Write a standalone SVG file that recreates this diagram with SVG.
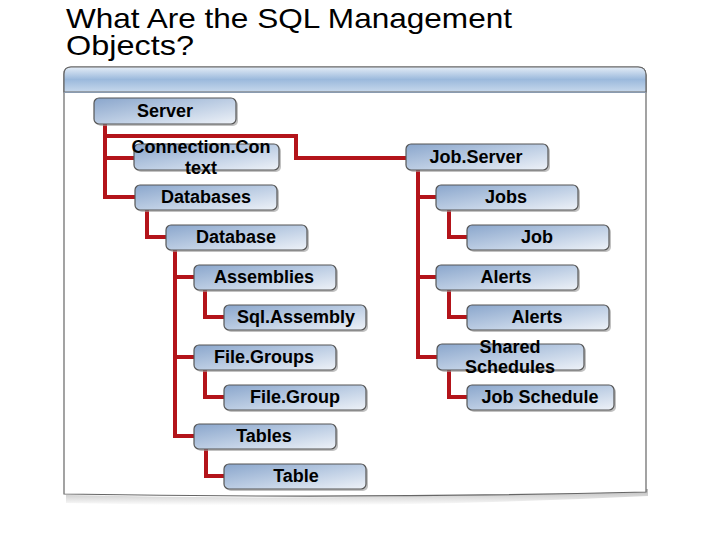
<svg xmlns="http://www.w3.org/2000/svg" width="720" height="540" viewBox="0 0 720 540">
<defs>
<linearGradient id="nodeGrad" x1="0" y1="0" x2="1" y2="1">
<stop offset="0" stop-color="#8aa6cc"/>
<stop offset="0.55" stop-color="#c0d0e5"/>
<stop offset="1" stop-color="#eef2f8"/>
</linearGradient>
<linearGradient id="headGrad" x1="0" y1="0" x2="0" y2="1">
<stop offset="0" stop-color="#e4edf7"/>
<stop offset="0.5" stop-color="#9bb9dc"/>
<stop offset="1" stop-color="#c7d8ec"/>
</linearGradient>
<linearGradient id="shadowGrad" x1="0" y1="0" x2="0" y2="1">
<stop offset="0" stop-color="#888" stop-opacity="0.6"/>
<stop offset="1" stop-color="#888" stop-opacity="0"/>
</linearGradient>
</defs>
<style>
.title{font-family:"Liberation Sans",Arial,sans-serif;font-size:28px;fill:#000}
.node rect.b{fill:url(#nodeGrad);stroke:#555;stroke-width:1.2}
.node rect.s{fill:#9a9a9a;opacity:0.6}
.node text{font-family:"Liberation Sans",Arial,sans-serif;font-size:18px;font-weight:bold;fill:#000;text-anchor:middle}
.conn path{fill:none;stroke:#b3141a;stroke-width:4;stroke-linejoin:miter}
</style>
<rect width="720" height="540" fill="#fff"/>
<text class="title" x="66" y="28" textLength="446" lengthAdjust="spacingAndGlyphs">What Are the SQL Management</text>
<text class="title" x="66" y="55" textLength="128" lengthAdjust="spacingAndGlyphs">Objects?</text>

<g id="panel">
<path d="M66 495 Q360 502 648 489 L648 496 Q360 510 66 503 Z" fill="url(#shadowGrad)"/>
<path d="M64 92 V74 Q64 67 71 67 H638 Q646 67 646 75 V492 Q360 499 64 494 Z" fill="#fff" stroke="#666" stroke-width="1.2"/>
<path d="M64 92 V74 Q64 67 71 67 H638 Q646 67 646 75 V92 Z" fill="url(#headGrad)" stroke="#666" stroke-width="1.2"/>
<line x1="64" y1="92.5" x2="646" y2="92.5" stroke="#8a9bb0" stroke-width="1"/>
</g>

<g class="conn" id="connectors">
<path d="M105 124 V197 H135"/>
<path d="M105 158 H134"/>
<path d="M105 136 H296 V158 H406"/>
<path d="M147 210 V237 H166"/>
<path d="M175 250 V436 H194"/>
<path d="M175 277 H194"/>
<path d="M175 357 H194"/>
<path d="M205 290 V317 H224"/>
<path d="M205 370 V397 H224"/>
<path d="M206 449 V476 H224"/>
<path d="M418 170 V357 H437"/>
<path d="M418 197 H436"/>
<path d="M418 277 H436"/>
<path d="M449 210 V237 H467"/>
<path d="M449 290 V317 H467"/>
<path d="M449 370 V397 H467"/>
</g>

<g class="node" id="n-server"><rect class="s" x="96" y="100" width="142" height="26" rx="5"/><rect class="b" x="94" y="98" width="142" height="26" rx="5"/><text x="165" y="117">Server</text></g>
<g class="node" id="n-connctx"><rect class="s" x="136" y="146" width="145" height="26" rx="5"/><rect class="b" x="134" y="144" width="145" height="26" rx="5"/><text x="201" y="153">Connection.Con</text><text x="201" y="174">text</text></g>
<g class="node" id="n-databases"><rect class="s" x="137" y="187" width="142" height="25" rx="5"/><rect class="b" x="135" y="185" width="142" height="25" rx="5"/><text x="206" y="203">Databases</text></g>
<g class="node" id="n-database"><rect class="s" x="168" y="227" width="141" height="25" rx="5"/><rect class="b" x="166" y="225" width="141" height="25" rx="5"/><text x="236" y="243">Database</text></g>
<g class="node" id="n-assemblies"><rect class="s" x="196" y="267" width="142" height="25" rx="5"/><rect class="b" x="194" y="265" width="142" height="25" rx="5"/><text x="264" y="283">Assemblies</text></g>
<g class="node" id="n-sqlassembly"><rect class="s" x="226" y="307" width="142" height="25" rx="5"/><rect class="b" x="224" y="305" width="142" height="25" rx="5"/><text x="296" y="323">Sql.Assembly</text></g>
<g class="node" id="n-filegroups"><rect class="s" x="196" y="347" width="142" height="25" rx="5"/><rect class="b" x="194" y="345" width="142" height="25" rx="5"/><text x="264" y="363">File.Groups</text></g>
<g class="node" id="n-filegroup"><rect class="s" x="226" y="387" width="142" height="25" rx="5"/><rect class="b" x="224" y="385" width="142" height="25" rx="5"/><text x="295" y="403">File.Group</text></g>
<g class="node" id="n-tables"><rect class="s" x="196" y="426" width="142" height="25" rx="5"/><rect class="b" x="194" y="424" width="142" height="25" rx="5"/><text x="264" y="442">Tables</text></g>
<g class="node" id="n-table"><rect class="s" x="226" y="466" width="142" height="25" rx="5"/><rect class="b" x="224" y="464" width="142" height="25" rx="5"/><text x="296" y="482">Table</text></g>

<g class="node" id="n-jobserver"><rect class="s" x="408" y="146" width="142" height="26" rx="5"/><rect class="b" x="406" y="144" width="142" height="26" rx="5"/><text x="476" y="163">Job.Server</text></g>
<g class="node" id="n-jobs"><rect class="s" x="438" y="187" width="142" height="25" rx="5"/><rect class="b" x="436" y="185" width="142" height="25" rx="5"/><text x="506" y="203">Jobs</text></g>
<g class="node" id="n-job"><rect class="s" x="469" y="227" width="142" height="25" rx="5"/><rect class="b" x="467" y="225" width="142" height="25" rx="5"/><text x="537" y="243">Job</text></g>
<g class="node" id="n-alerts"><rect class="s" x="438" y="267" width="142" height="25" rx="5"/><rect class="b" x="436" y="265" width="142" height="25" rx="5"/><text x="506" y="283">Alerts</text></g>
<g class="node" id="n-alert"><rect class="s" x="469" y="307" width="142" height="25" rx="5"/><rect class="b" x="467" y="305" width="142" height="25" rx="5"/><text x="537" y="323">Alerts</text></g>
<g class="node" id="n-sharedsched"><rect class="s" x="439" y="346" width="147" height="26" rx="5"/><rect class="b" x="437" y="344" width="147" height="26" rx="5"/><text x="510" y="353">Shared</text><text x="510" y="373">Schedules</text></g>
<g class="node" id="n-jobschedule"><rect class="s" x="469" y="387" width="147" height="25" rx="5"/><rect class="b" x="467" y="385" width="147" height="25" rx="5"/><text x="540" y="403">Job Schedule</text></g>
</svg>
